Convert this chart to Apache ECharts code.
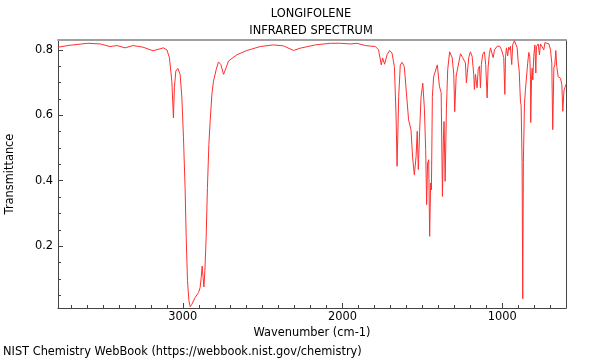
<!DOCTYPE html>
<html>
<head>
<meta charset="utf-8">
<script src="https://cdn.jsdelivr.net/npm/echarts@6/dist/echarts.min.js"></script>
<style>html,body{margin:0;padding:0;background:#fff}#c{width:600px;height:360px}</style>
</head>
<body>
<div id="c"></div>
<script>
const wavenumbers = [3782,3707,3594,3518,3456,3412,3362,3312,3249,3186,3122,3100,3084,3069,3059,3053,3044,3031,3017,3006,2996,2986,2979,2971,2962,2954,2944,2923,2902,2892,2885,2879,2873,2868,2862,2854,2846,2837,2829,2818,2808,2791,2777,2762,2745,2729,2714,2661,2599,2515,2432,2369,2307,2265,2171,2076,2014,1951,1909,1857,1794,1774,1757,1749,1736,1721,1705,1690,1675,1665,1658,1648,1638,1627,1613,1600,1586,1571,1561,1550,1539,1532,1525,1517,1508,1497,1487,1479,1473,1467,1460,1454,1448,1443,1437,1429,1418,1406,1393,1382,1374,1368,1364,1357,1349,1341,1329,1313,1303,1297,1288,1282,1272,1261,1247,1236,1230,1224,1218,1209,1199,1188,1178,1174,1167,1161,1157,1150,1142,1136,1130,1122,1111,1103,1094,1088,1080,1073,1063,1056,1048,1040,1031,1015,1004,996,990,983,979,973,965,959,952,948,944,940,934,923,915,906,900,893,889,885,881,875,871,867,860,854,848,840,833,827,822,821,816,812,808,802,795,789,785,774,766,760,749,739,732,722,707,697,689,683,676,670,664,658,649,634,626,620,613,604,600];
const transmittance = [0.808,0.814,0.820,0.818,0.810,0.813,0.806,0.813,0.808,0.797,0.806,0.800,0.776,0.704,0.592,0.684,0.735,0.743,0.725,0.653,0.531,0.379,0.226,0.095,0.034,0.015,0.022,0.043,0.058,0.073,0.104,0.139,0.104,0.075,0.124,0.226,0.379,0.511,0.582,0.664,0.704,0.740,0.763,0.755,0.725,0.745,0.766,0.785,0.798,0.810,0.815,0.812,0.798,0.805,0.815,0.820,0.820,0.818,0.820,0.813,0.810,0.800,0.754,0.775,0.756,0.785,0.798,0.790,0.749,0.607,0.444,0.657,0.754,0.762,0.749,0.671,0.586,0.556,0.472,0.418,0.474,0.551,0.434,0.550,0.655,0.698,0.620,0.495,0.327,0.454,0.464,0.230,0.393,0.372,0.657,0.718,0.712,0.754,0.689,0.669,0.352,0.525,0.581,0.398,0.620,0.739,0.794,0.776,0.725,0.611,0.720,0.714,0.760,0.788,0.776,0.778,0.760,0.699,0.730,0.776,0.794,0.780,0.725,0.679,0.725,0.730,0.684,0.740,0.750,0.684,0.755,0.786,0.794,0.755,0.653,0.745,0.788,0.806,0.800,0.776,0.800,0.795,0.811,0.811,0.800,0.806,0.776,0.664,0.776,0.806,0.782,0.808,0.800,0.811,0.780,0.755,0.816,0.828,0.826,0.806,0.765,0.735,0.684,0.640,0.630,0.455,0.039,0.455,0.637,0.678,0.683,0.759,0.792,0.780,0.708,0.578,0.708,0.744,0.708,0.780,0.815,0.729,0.810,0.818,0.785,0.818,0.820,0.800,0.822,0.828,0.818,0.800,0.759,0.556,0.745,0.754,0.798,0.749,0.718,0.713,0.693,0.612,0.675,0.688,0.695];

const xMajorTicks = [1000, 2000, 3000];
const xMinorTicks = [700,800,900,1100,1200,1300,1400,1500,1600,1700,1800,1900,2100,2200,2300,2400,2500,2600,2700,2800,2900,3100,3200,3300,3400,3500,3600,3700];
const yMajorTicks = [0.2, 0.4, 0.6, 0.8];
const yMinorTicks = [0.05,0.1,0.15,0.25,0.3,0.35,0.45,0.5,0.55,0.65,0.7,0.75];

const titleLines = ['LONGIFOLENE', 'INFRARED SPECTRUM'];
const footer = 'NIST Chemistry WebBook (https://webbook.nist.gov/chemistry)';
const xName = 'Wavenumber (cm-1)';
const yName = 'Transmittance';

const X_MIN = 600, X_MAX = 3782, Y_MIN = 0.011, Y_MAX = 0.83;
const FONT = 'DejaVu Sans';
const FS = 11.4;
const axisColor = '#444';

const chart = echarts.init(document.getElementById('c'), null, {renderer: 'canvas'});
const seriesData = wavenumbers.map((w, i) => [w, transmittance[i]]);

const baseX = {type: 'value', min: X_MIN, max: X_MAX, inverse: true, splitLine: {show: false}, gridIndex: 0};
const baseY = {type: 'value', min: Y_MIN, max: Y_MAX, splitLine: {show: false}, gridIndex: 0};

chart.setOption({
  animation: false,
  backgroundColor: '#fff',
  textStyle: {fontFamily: FONT},
  title: [
    {text: titleLines.join('\n'), left: 311, top: 6, padding: 0, textAlign: 'center',
     textStyle: {fontFamily: FONT, fontSize: FS, fontWeight: 'normal', color: '#000', lineHeight: 17}},
    {text: footer, left: 3, top: 347, padding: 0,
     textStyle: {fontFamily: FONT, fontSize: FS, fontWeight: 'normal', color: '#000'}}
  ],
  grid: {left: 58, right: 34, top: 40, bottom: 52, containLabel: false, outerBoundsMode: 'none'},
  xAxis: [
    Object.assign({}, baseX, {
      position: 'bottom',
      name: xName, nameLocation: 'middle', nameGap: 18,
      nameTextStyle: {fontFamily: FONT, fontSize: FS, color: '#000'},
      axisLine: {show: true, lineStyle: {color: axisColor, width: 1}},
      axisTick: {show: true, inside: true, length: 5, customValues: xMajorTicks, lineStyle: {color: axisColor}},
      axisLabel: {show: true, customValues: xMajorTicks, margin: 4, fontFamily: FONT, fontSize: FS, color: '#000',
                  formatter: v => String(v)}
    }),
    Object.assign({}, baseX, {
      position: 'bottom',
      axisLine: {show: false},
      axisTick: {show: true, inside: true, length: 3, customValues: xMinorTicks, lineStyle: {color: axisColor}},
      axisLabel: {show: false}
    }),
    Object.assign({}, baseX, {
      position: 'top',
      axisLine: {show: true, lineStyle: {color: '#a0a0a0', width: 2}},
      axisTick: {show: false},
      axisLabel: {show: false}
    })
  ],
  yAxis: [
    Object.assign({}, baseY, {
      position: 'left',
      name: yName, nameLocation: 'middle', nameGap: 42,
      nameTextStyle: {fontFamily: FONT, fontSize: FS, color: '#000'},
      axisLine: {show: true, lineStyle: {color: axisColor, width: 1}},
      axisTick: {show: true, inside: true, length: 5, customValues: yMajorTicks, lineStyle: {color: axisColor}},
      axisLabel: {show: true, customValues: yMajorTicks, margin: 5, fontFamily: FONT, fontSize: FS, color: '#000',
                  formatter: v => v.toFixed(1)}
    }),
    Object.assign({}, baseY, {
      position: 'left',
      axisLine: {show: false},
      axisTick: {show: true, inside: true, length: 3, customValues: yMinorTicks, lineStyle: {color: axisColor}},
      axisLabel: {show: false}
    }),
    Object.assign({}, baseY, {
      position: 'right',
      axisLine: {show: true, lineStyle: {color: axisColor, width: 1}},
      axisTick: {show: false},
      axisLabel: {show: false}
    })
  ],
  series: [{
    type: 'line',
    xAxisIndex: 0, yAxisIndex: 0,
    data: seriesData,
    showSymbol: false,
    symbol: 'none',
    lineStyle: {color: '#ff3030', width: 1},
    clip: true
  }]
});
</script>
</body>
</html>
